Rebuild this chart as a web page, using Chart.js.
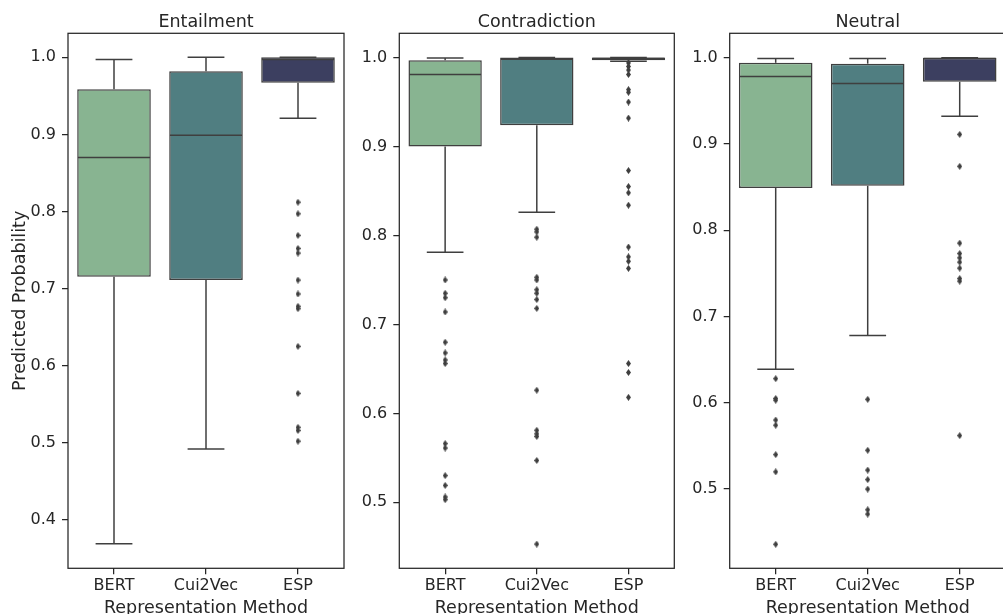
<!DOCTYPE html>
<html><head><meta charset="utf-8">
<script src="https://cdn.jsdelivr.net/npm/chart.js@4/dist/chart.umd.min.js"></script>
<style>
html,body{margin:0;padding:0;background:#fff;overflow:hidden;width:1003px;height:614px;position:relative;}
canvas{position:absolute;top:0;}
</style></head><body>
<canvas id="c0" width="350" height="614" style="left:0px"></canvas>
<canvas id="c1" width="335" height="614" style="left:345px"></canvas>
<canvas id="c2" width="340" height="614" style="left:675px"></canvas>
<script>
// ---------- data ----------
const categories = ['BERT', 'Cui2Vec', 'ESP'];
const panelTitles = ['Entailment', 'Contradiction', 'Neutral'];
const xAxisTitle = 'Representation Method';
const yAxisTitle = 'Predicted Probability';

const entailmentLow    = [0.369, 0.492, 0.921];
const entailmentQ1     = [0.7155, 0.711, 0.967];
const entailmentMedian = [0.870, 0.899, 0.997];
const entailmentQ3     = [0.9585, 0.982, 1.000];
const entailmentHigh   = [0.997, 1.000, 1.000];
const entailmentOutBERT = [];
const entailmentOutCui2Vec = [];
const entailmentOutESP = [0.812, 0.797, 0.769, 0.752, 0.746, 0.711, 0.693, 0.677, 0.674, 0.625, 0.564, 0.520, 0.516, 0.502];
const entailmentTicks = [0.4, 0.5, 0.6, 0.7, 0.8, 0.9, 1.0];
const entailmentRange = [0.3372, 1.0311];

const contradictionLow    = [0.781, 0.826, 0.996];
const contradictionQ1     = [0.900, 0.924, 0.997];
const contradictionMedian = [0.981, 0.998, 0.999];
const contradictionQ3     = [0.997, 1.000, 1.000];
const contradictionHigh   = [0.9995, 1.000, 1.000];
const contradictionOutBERT = [0.750, 0.735, 0.730, 0.714, 0.680, 0.668, 0.660, 0.656, 0.566, 0.561, 0.530, 0.519, 0.506, 0.503];
const contradictionOutCui2Vec = [0.807, 0.804, 0.798, 0.753, 0.750, 0.739, 0.735, 0.728, 0.718, 0.626, 0.581, 0.577, 0.574, 0.547, 0.453];
const contradictionOutESP = [0.994, 0.990, 0.986, 0.981, 0.964, 0.961, 0.950, 0.932, 0.873, 0.855, 0.848, 0.834, 0.787, 0.776, 0.771, 0.763, 0.656, 0.646, 0.618];
const contradictionTicks = [0.5, 0.6, 0.7, 0.8, 0.9, 1.0];
const contradictionRange = [0.4258, 1.0273];

const neutralLow    = [0.639, 0.678, 0.932];
const neutralQ1     = [0.849, 0.8515, 0.972];
const neutralMedian = [0.978, 0.970, 0.999];
const neutralQ3     = [0.994, 0.993, 1.000];
const neutralHigh   = [0.999, 0.999, 1.000];
const neutralOutBERT = [0.628, 0.605, 0.603, 0.580, 0.574, 0.540, 0.520, 0.436];
const neutralOutCui2Vec = [0.604, 0.545, 0.522, 0.511, 0.500, 0.476, 0.471];
const neutralOutESP = [0.911, 0.874, 0.785, 0.773, 0.768, 0.763, 0.756, 0.744, 0.741, 0.562];
const neutralTicks = [0.5, 0.6, 0.7, 0.8, 0.9, 1.0];
const neutralRange = [0.4082, 1.0282];

// ---------- styles ----------
const boxColors = ['#88b491', '#507e81', '#3c3f60'];
const LINE = '#3f3f3f';
const DARK = '#262626';
const FONT = "'DejaVu Sans', sans-serif";

const diamond = document.createElement('canvas');
diamond.width = 5; diamond.height = 7;
(function(){
  const c = diamond.getContext('2d');
  c.fillStyle = LINE;
  c.beginPath(); c.moveTo(2.5, 0); c.lineTo(5, 3.5); c.lineTo(2.5, 7); c.lineTo(0, 3.5); c.closePath(); c.fill();
})();

const boxPlugin = {
  id: 'boxParts',
  afterDatasetsDraw(chart) {
    const p = chart.options.plugins.boxParts;
    const ys = chart.scales.y;
    const ctx = chart.ctx;
    const meta = chart.getDatasetMeta(0);
    ctx.save();
    ctx.strokeStyle = LINE;
    ctx.lineWidth = 1.5;
    const line = (x1, y1, x2, y2) => { ctx.beginPath(); ctx.moveTo(x1, y1); ctx.lineTo(x2, y2); ctx.stroke(); };
    meta.data.forEach((bar, i) => {
      const x = bar.x, w = bar.width;
      const yLo = ys.getPixelForValue(p.low[i]);
      const yHi = ys.getPixelForValue(p.high[i]);
      const yQ1 = ys.getPixelForValue(p.q1[i]);
      const yQ3 = ys.getPixelForValue(p.q3[i]);
      const yMed = ys.getPixelForValue(p.median[i]);
      line(x, yQ1, x, yLo);
      line(x - w / 4, yLo, x + w / 4, yLo);
      line(x, yQ3, x, yHi);
      line(x - w / 4, yHi, x + w / 4, yHi);
      line(x - w / 2 + 0.75, yMed, x + w / 2 - 0.75, yMed);
    });
    ctx.restore();
  },
  afterDraw(chart) {
    const p = chart.options.plugins.boxParts;
    const a = chart.chartArea;
    const ctx = chart.ctx;
    ctx.save();
    ctx.strokeStyle = DARK;
    ctx.lineWidth = 1.25;
    ctx.strokeRect(a.left, a.top, a.right - a.left, a.bottom - a.top);
    ctx.fillStyle = DARK;
    ctx.font = "17.5px " + FONT;
    ctx.textAlign = 'center';
    ctx.textBaseline = 'alphabetic';
    const cx = (a.left + a.right) / 2;
    ctx.fillText(p.title, cx, 27.3);
    ctx.fillText(xAxisTitle, cx, 612.8);
    if (p.showYTitle) {
      ctx.translate(25, (a.top + a.bottom) / 2);
      ctx.rotate(-Math.PI / 2);
      ctx.fillText(yAxisTitle, 0, 0);
    }
    ctx.restore();
  }
};

function makeChart(id, title, low, q1, med, q3, high, outs, ticks, range, yWidth, padRight, showYTitle) {
  const outlierPoints = [];
  outs.forEach((arr, i) => arr.forEach(v => outlierPoints.push({x: categories[i], y: v})));
  new Chart(document.getElementById(id), {
    type: 'bar',
    data: {
      labels: categories,
      datasets: [
        {
          type: 'bar',
          data: q1.map((v, i) => [v, q3[i]]),
          backgroundColor: boxColors,
          borderColor: LINE,
          borderWidth: 1.5,
          borderSkipped: false,
          barPercentage: 0.8,
          categoryPercentage: 1.0,
          order: 2
        },
        {
          type: 'scatter',
          data: outlierPoints,
          pointStyle: diamond,
          pointRadius: 3,
          showLine: false,
          order: 1
        }
      ]
    },
    options: {
      responsive: false,
      animation: false,
      devicePixelRatio: 1,
      events: [],
      layout: { padding: { top: 33.3, right: padRight, left: 0, bottom: 0 } },
      scales: {
        x: {
          type: 'category',
          offset: true,
          grid: { offset: false, drawOnChartArea: false, drawTicks: true, tickLength: 6, color: DARK, lineWidth: 1.25 },
          border: { display: false },
          ticks: { font: { family: FONT, size: 16 }, color: DARK, padding: 2, maxRotation: 0 },
          afterFit(s) { s.height = 614 - 568.3; }
        },
        y: {
          type: 'linear',
          min: range[0],
          max: range[1],
          grid: { drawOnChartArea: false, drawTicks: true, tickLength: 6, color: DARK, lineWidth: 1.25 },
          border: { display: false },
          ticks: { font: { family: FONT, size: 16 }, color: DARK, padding: 6, callback: v => v.toFixed(1) },
          afterBuildTicks(s) { s.ticks = ticks.map(v => ({ value: v })); },
          afterFit(s) { s.width = yWidth; }
        }
      },
      plugins: {
        legend: { display: false },
        tooltip: { enabled: false },
        boxParts: { title, low, q1, median: med, q3, high, showYTitle }
      }
    },
    plugins: [boxPlugin]
  });
}

makeChart('c0', panelTitles[0], entailmentLow, entailmentQ1, entailmentMedian, entailmentQ3, entailmentHigh,
  [entailmentOutBERT, entailmentOutCui2Vec, entailmentOutESP], entailmentTicks, entailmentRange, 68, 6, true);
makeChart('c1', panelTitles[1], contradictionLow, contradictionQ1, contradictionMedian, contradictionQ3, contradictionHigh,
  [contradictionOutBERT, contradictionOutCui2Vec, contradictionOutESP], contradictionTicks, contradictionRange, 54.3, 5.7, false);
makeChart('c2', panelTitles[2], neutralLow, neutralQ1, neutralMedian, neutralQ3, neutralHigh,
  [neutralOutBERT, neutralOutCui2Vec, neutralOutESP], neutralTicks, neutralRange, 54.7, 9.3, false);
</script>
</body></html>
